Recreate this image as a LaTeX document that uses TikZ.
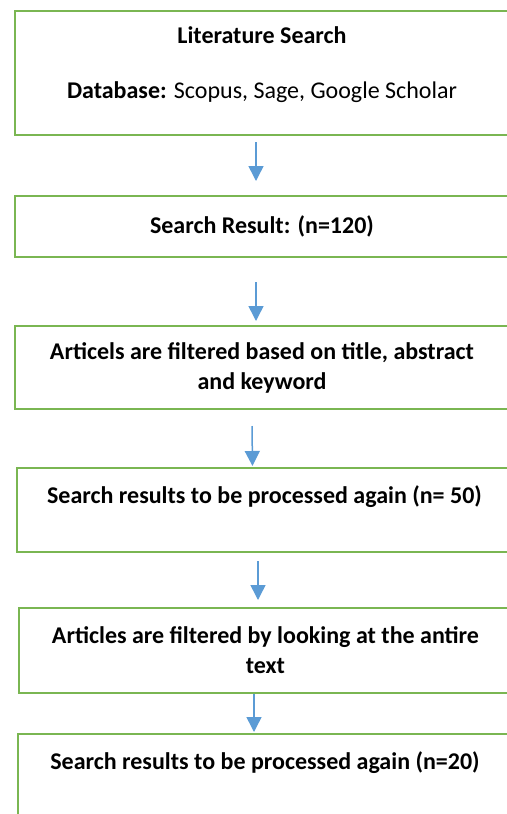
\documentclass[tikz,border=0pt]{standalone}
\usepackage{fontspec}
\setmainfont{Carlito}
\usetikzlibrary{arrows.meta,positioning}
\definecolor{boxgreen}{RGB}{122,182,82}
\definecolor{arrowblue}{RGB}{91,155,213}
\tikzset{
  stagebox/.style={draw=boxgreen, line width=1pt, align=center,
    font=\fontsize{12}{15}\selectfont\bfseries, inner sep=0pt},
  flow/.style={draw=arrowblue, line width=0.75pt, -{Triangle[width=7.5pt,length=7.5pt]}}
}
\begin{document}
\begin{tikzpicture}[x=0.5pt, y=-0.5pt]
    \useasboundingbox (0,0) rectangle (507,814);
    \clip (0,0) rectangle (507,814);

    % Stages of the search
    \node[stagebox, minimum width=247pt, minimum height=62pt] (lit) at (262,73)
        {Literature Search\\[12.5pt]Database: \mdseries Scopus, Sage, Google Scholar\\[-5pt]\mbox{}};
    \node[stagebox, minimum width=247pt, minimum height=30.5pt] (res) at (262,226.5)
        {Search Result: (n=120)};
    \node[stagebox, minimum width=247pt, minimum height=41.5pt] (fil) at (262,367.5)
        {Articels are filtered based on title, abstract\\and keyword};
    \node[stagebox, minimum width=247.5pt, minimum height=42pt] (agn) at (264.5,510)
        {Search results to be processed again (n= 50)\\\mbox{}};
    \node[stagebox, minimum width=246.5pt, minimum height=42.5pt] (txt) at (265.5,650.5)
        {Articles are filtered by looking at the antire\\text};
    \node[stagebox, minimum width=247pt, minimum height=42pt] (fin) at (265,776)
        {Search results to be processed again (n=20)\\\mbox{}};

    % Arrows between the stages
    \draw[flow] ([shift={(-6,6)}]lit.south) -- ([shift={(-6,-14)}]res.north);
    \draw[flow] ([shift={(-6,24)}]res.south) -- ([shift={(-6,-4)}]fil.north);
    \draw[flow] ([shift={(-10,16)}]fil.south) -- ([shift={(-12,-1)}]agn.north);
    \draw[flow] ([shift={(-6.5,8)}]agn.south) -- ([shift={(-7.5,-7)}]txt.north);
    \draw[flow] ([shift={(-11.5,0)}]txt.south) -- ([shift={(-11,-1)}]fin.north);
\end{tikzpicture}
\end{document}
